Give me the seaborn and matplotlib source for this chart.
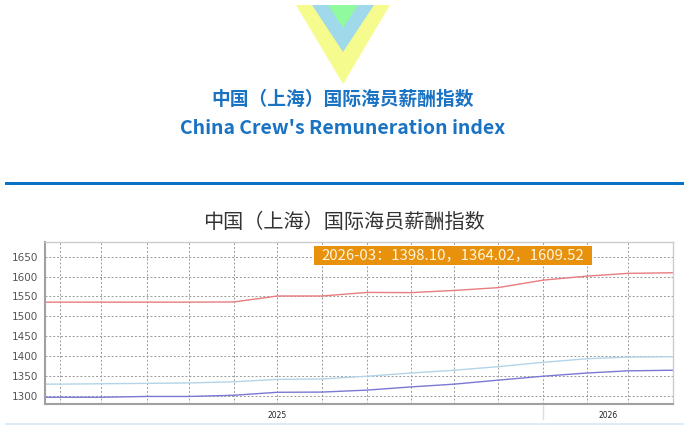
import matplotlib
matplotlib.use("Agg")
import matplotlib.pyplot as plt
import matplotlib.dates as mdates
from matplotlib.patches import Polygon, Rectangle
import seaborn as sns
import pandas as pd

sns.set_style("white")
plt.rcParams["font.family"] = ["DejaVu Sans", "Noto Sans CJK SC"]

# index values (publication dates estimated from gridline spacing)
dates = [
    "2024-03-19", "2024-05-07", "2024-06-21", "2024-08-10", "2024-09-26",
    "2024-11-14", "2025-01-01", "2025-02-19", "2025-04-10", "2025-05-28",
    "2025-07-15", "2025-09-01", "2025-10-21", "2025-12-08", "2026-01-22",
    "2026-03-13",
]
index_1 = [1329, 1329, 1330, 1331, 1332, 1335, 1341, 1342, 1349, 1357,
           1364, 1373, 1384, 1393, 1397, 1398.10]
index_2 = [1296, 1296, 1296, 1298, 1298, 1301, 1308.5, 1309, 1314, 1322,
           1329, 1339, 1349, 1357, 1362.5, 1364.02]
index_3 = [1535.5, 1535.5, 1535.5, 1535.5, 1535.5, 1536, 1551, 1551, 1560, 1559.5,
           1565, 1572, 1591, 1601, 1608, 1609.52]
series_names = ["index_1", "index_2", "index_3"]
line_colors = {"index_1": "#b4d4e8", "index_2": "#7a78d2", "index_3": "#e87c80"}

year_ticks = ["2025-01-01", "2026-01-01"]
year_labels = ["2025", "2026"]
tooltip_period = "2026-03"

title_cn = "中国（上海）国际海员薪酬指数"
title_en = "China Crew's Remuneration index"

df = pd.DataFrame({
    "date": pd.to_datetime(dates * 3),
    "value": index_1 + index_2 + index_3,
    "series": [s for s in series_names for _ in dates],
})

W, H = 684, 429
fig = plt.figure(figsize=(W / 100, H / 100), dpi=100)
ax = fig.add_axes([45 / W, 1 - 404 / H, (673 - 45) / W, (404 - 242) / H])

sns.lineplot(data=df, x="date", y="value", hue="series", palette=line_colors,
             legend=False, ax=ax, linewidth=1.0)

ax.xaxis.remove_overlapping_locs = False
ax.set_yticks(range(1300, 1651, 50))
ax.set_xticks(mdates.date2num(pd.to_datetime(dates)))
ax.set_xticklabels([])
ax.set_xticks(mdates.date2num(pd.to_datetime(year_ticks)), minor=True)
ax.set_xticklabels(year_labels, minor=True)
# limits after ticks, set_xticks widens the view otherwise
ax.set_xlim(mdates.date2num(pd.Timestamp("2024-04-20")),
            mdates.date2num(pd.Timestamp(dates[-1])))
ax.set_ylim(1279, 1687)
ax.tick_params(axis="x", which="minor", length=0, labelsize=5.5, pad=5, labelcolor="#222")
ax.tick_params(axis="x", which="major", length=3, color="#999", width=0.6)
ax.tick_params(axis="y", length=4, color="#888", width=0.8, labelsize=7.5,
               labelcolor="#555", pad=1)
ax.grid(True, which="major", color="#999999", linestyle=(0, (2, 2)), linewidth=0.7)
ax.set_xlabel("")
ax.set_ylabel("")
for side, sp in ax.spines.items():
    if side in ("left", "bottom"):
        sp.set_color("#a0a0a0")
        sp.set_linewidth(1.5)
    else:
        sp.set_color("#cccccc")
        sp.set_linewidth(1.0)

# page decoration drawn in pixel coordinates
deco = fig.add_axes([0, 0, 1, 1], zorder=5)
deco.set_xlim(0, W)
deco.set_ylim(H, 0)
deco.axis("off")
deco.patch.set_alpha(0)

deco.add_patch(Polygon([(296, 5), (390, 5), (343, 84)], color="#f6fb8e", lw=0))
deco.add_patch(Polygon([(312, 5), (374, 5), (343, 52)], color="#a0d9ea", lw=0))
deco.add_patch(Polygon([(328, 5), (358, 5), (343, 28)], color="#8ffb9e", lw=0))

deco.text(343, 99, title_cn, ha="center", va="center", fontsize=13.5,
          fontweight="bold", color="#1a72c2", family=["Noto Sans CJK SC"])
deco.text(343, 128, title_en, ha="center", va="center", fontsize=14,
          fontweight="bold", color="#1a72c2", family=["Noto Sans CJK SC"])
deco.add_patch(Rectangle((5, 181.5), W - 5, 3, color="#0a72c4", lw=0))

deco.text(343.5, 222, title_cn, ha="center", va="center", fontsize=14.5,
          color="#333333", family=["Noto Sans CJK SC"])

# tooltip box for the latest period
deco.add_patch(Rectangle((314, 246), 278, 18.5, color="#e8910c", lw=0))
tip = "{}：{:.2f}，{:.2f}，{:.2f}".format(tooltip_period, index_1[-1], index_2[-1], index_3[-1])
deco.text(453, 255.5, tip, ha="center", va="center", fontsize=10.8,
          color="#fff6dc", family=["Noto Sans CJK SC", "DejaVu Sans"])

deco.plot([543, 543], [405, 419], color="#dddddd", lw=1)
deco.add_patch(Rectangle((5, 423), W - 5, 2, color="#dcebf6", lw=0))

fig.savefig("out.png", dpi=100)
